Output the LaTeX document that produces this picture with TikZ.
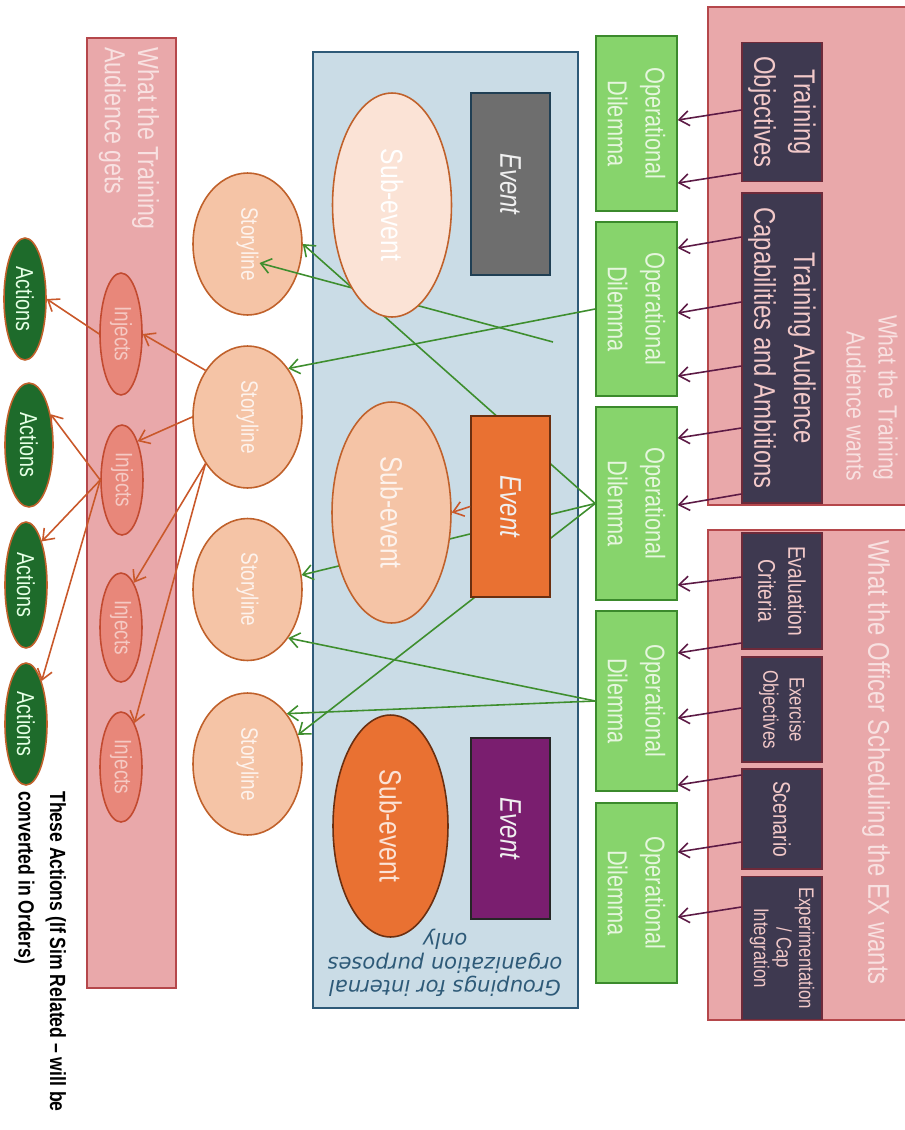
\documentclass[tikz,border=0pt]{standalone}
\usepackage{fontspec}
\setmainfont{Liberation Sans}[FakeStretch=0.8]
\newfontfamily\groupfont{DejaVu Sans}
\usetikzlibrary{arrows.meta,shapes.geometric,calc}

\definecolor{panelpink}{HTML}{E9A8AA}
\definecolor{panelline}{HTML}{B5474B}
\definecolor{wantsink}{HTML}{F8E1E1}
\definecolor{slate}{HTML}{3E3950}
\definecolor{slateline}{HTML}{6E2A3A}
\definecolor{slatetext}{HTML}{F2C9C9}
\definecolor{odgreen}{HTML}{87D46C}
\definecolor{odline}{HTML}{3B8A2C}
\definecolor{odtext}{HTML}{E6F6DE}
\definecolor{groupblue}{HTML}{CADCE6}
\definecolor{groupline}{HTML}{2E5A78}
\definecolor{evgray}{HTML}{6E6E6E}
\definecolor{evorange}{HTML}{E97132}
\definecolor{evpurple}{HTML}{7A1E6F}
\definecolor{peachpale}{HTML}{FBE3D6}
\definecolor{peach}{HTML}{F5C4A6}
\definecolor{rustline}{HTML}{C0612B}
\definecolor{darkrust}{HTML}{6B2F10}
\definecolor{salmon}{HTML}{E8877A}
\definecolor{salmonline}{HTML}{C24A30}
\definecolor{actgreen}{HTML}{1E6B2B}
\definecolor{plum}{HTML}{5C1A45}
\definecolor{linkgreen}{HTML}{3E8E2E}
\definecolor{linkrust}{HTML}{C9582A}

\tikzset{
  panel/.style={draw=panelline, fill=panelpink, line width=0.8pt},
  wanttitle/.style={text=wantsink, inner sep=0pt},
  wantbox/.style={draw=slateline, fill=slate, text=slatetext, minimum height=1.6cm,
    inner sep=0pt, align=center, line width=0.8pt},
  dilemma/.style={draw=odline, fill=odgreen, text=odtext, minimum height=1.62cm,
    inner sep=0pt, align=center, line width=0.9pt, font=\fontsize{15.5}{21.6}\selectfont},
  eventbox/.style={minimum width=3.63cm, minimum height=1.58cm, inner sep=0pt,
    text=white!94!black, line width=0.9pt, font=\fontsize{17}{20}\selectfont\itshape},
  subevent/.style={ellipse, minimum height=2.38cm, inner sep=0pt, line width=0.9pt,
    font=\fontsize{17.5}{20}\selectfont},
  story/.style={ellipse, draw=rustline, fill=peach, text=white!80!peach,
    minimum width=2.84cm, minimum height=2.18cm, inner sep=0pt, line width=0.9pt,
    font=\fontsize{13.5}{16}\selectfont},
  inject/.style={ellipse, draw=salmonline, fill=salmon, text=salmon!45!white,
    minimum height=0.84cm, inner sep=0pt, line width=0.9pt, font=\fontsize{13.5}{16}\selectfont},
  action/.style={ellipse, draw=rustline, fill=actgreen, text=green!10!white,
    minimum height=0.84cm, inner sep=0pt, line width=0.9pt, font=\fontsize{14}{16}\selectfont},
  feeds/.style={draw=plum, line width=0.9pt, -{Straight Barb[length=2mm,width=3mm]}},
  greenlink/.style={draw=linkgreen, line width=0.9pt, -{Straight Barb[length=2mm,width=3mm]}},
  rustlink/.style={draw=linkrust, line width=0.9pt, -{Straight Barb[length=2mm,width=3mm]}}
}

\begin{document}
\begin{tikzpicture}[x=0.02cm, y=0.02cm, rotate=-90, transform shape]
\useasboundingbox (0,0) rectangle (1130,904);
\fill[white] (0,0) rectangle (1130,904);

\draw[panel] (7,708) rectangle (505,910);
\draw[panel] (530,708) rectangle (1020,910);
\draw[panel] (38,87) rectangle (988,176);
\draw[draw=groupline, fill=groupblue, line width=0.9pt] (52,313) rectangle (1008,578);

\node[wanttitle, anchor=east, align=right, font=\fontsize{15}{18.2}\selectfont] (wantsTA) at (481,872) {What the Training\\Audience wants};
\node[wanttitle, anchor=west, font=\fontsize{17}{20}\selectfont] (wantsEX) at (540,876) {What the Officer Scheduling the EX wants};
\node[wanttitle, anchor=west, align=left, font=\fontsize{16.5}{18.8}\selectfont] (getsTA) at (47,129) {What the Training\\Audience gets};

\node[wantbox, minimum width=2.78cm, font=\fontsize{17}{22.7}\selectfont] (TO) at (112,782) {Training\\Objectives};
\node[wantbox, minimum width=6.2cm, font=\fontsize{17}{22.7}\selectfont] (TAC) at (348,782) {Training Audience\\Capabilities and Ambitions};
\node[wantbox, minimum width=2.32cm, font=\fontsize{13.7}{17}\selectfont] (EC) at (591,782) {Evaluation\\Criteria};
\node[wantbox, minimum width=2.1cm, font=\fontsize{12}{15}\selectfont] (EO) at (709.5,782) {Exercise\\Objectives};
\node[wantbox, minimum width=2.0cm, font=\fontsize{13.7}{17}\selectfont] (SC) at (819,782) {Scenario};
\node[wantbox, minimum width=2.86cm, font=\fontsize{12}{12.8}\selectfont] (EXP) at (948,782) {Experimentation\\/ Cap\\Integration};

\node[dilemma, minimum width=3.5cm] (OD1) at (123.5,636.5) {Operational\\Dilemma};
\node[dilemma, minimum width=3.48cm] (OD2) at (309,636.5) {Operational\\Dilemma};
\node[dilemma, minimum width=3.86cm] (OD3) at (503.5,636.5) {Operational\\Dilemma};
\node[dilemma, minimum width=3.6cm] (OD4) at (701,636.5) {Operational\\Dilemma};
\node[dilemma, minimum width=3.6cm] (OD5) at (893,636.5) {Operational\\Dilemma};

\draw[feeds] (TO.south -| 110,0) -- (OD1.north -| 120,0);
\draw[feeds] (TO.south -| 173,0) -- (OD1.north -| 183,0);
\draw[feeds] (TAC.south -| 237,0) -- (OD2.north -| 248,0);
\draw[feeds] (TAC.south -| 302,0) -- (OD2.north -| 313,0);
\draw[feeds] (TAC.south -| 366,0) -- (OD2.north -| 376,0);
\draw[feeds] (TAC.south -| 428,0) -- (OD3.north -| 438,0);
\draw[feeds] (TAC.south -| 494,0) -- (OD3.north -| 505,0);
\draw[feeds] (EC.south -| 577,0) -- (OD3.north -| 585,0);
\draw[feeds] (EC.south -| 643,0) -- (OD4.north -| 653,0);
\draw[feeds] (EO.south -| 708,0) -- (OD4.north -| 718,0);
\draw[feeds] (SC.south -| 775,0) -- (OD4.north -| 785,0);
\draw[feeds] (SC.south -| 842,0) -- (OD5.north -| 852,0);
\draw[feeds] (EXP.south -| 907,0) -- (OD5.north -| 917,0);

\node[story] (SL1) at (244,247.5) {Storyline};
\node[story] (SL2) at (417,247.5) {Storyline};
\node[story] (SL3) at (589.5,247.5) {Storyline};
\node[story] (SL4) at (764,247.5) {Storyline};

\node[inject, minimum width=2.44cm] (IN1) at (334,121) {Injects};
\node[inject, minimum width=2.2cm] (IN2) at (480,122) {Injects};
\node[inject, minimum width=2.18cm] (IN3) at (627.5,121) {Injects};
\node[inject, minimum width=2.2cm] (IN4) at (767,121) {Injects};

\node[action, minimum width=2.44cm] (AC1) at (299,25) {Actions};
\node[action, minimum width=2.48cm, minimum height=0.96cm] (AC2) at (445,29) {Actions};
\node[action, minimum width=2.52cm] (AC3) at (585,26) {Actions};
\node[action, minimum width=2.44cm] (AC4) at (724,26) {Actions};

\coordinate (loose) at (342,553);
\coordinate (SL1mark) at ($(SL1.center)+(19,12)$);
\draw[greenlink] (loose) -- (SL1mark);
\draw[greenlink] (OD2.south) -- (SL2.140);
\draw[greenlink] (OD3.south) -- (SL1.north);
\draw[greenlink] (OD3.south) -- (SL3.105);
\draw[greenlink] (OD3.south) -- (SL4.120);
\draw[greenlink] (OD4.south) -- (SL3.40);
\draw[greenlink] (OD4.south) -- (SL4.142);

\draw[rustlink] (SL2.222) -- (IN1.north);
\draw[rustlink] (SL2.south) -- (IN2.158);
\draw[rustlink] (SL2.318) -- (IN3.164);
\draw[rustlink] (SL2.318) -- (IN4.163);
\draw[rustlink] (IN1.south) -- (AC1.north);
\draw[rustlink] (IN2.south) -- (AC2.145);
\draw[rustlink] (IN2.south) -- (AC3.160);
\draw[rustlink] (IN2.south) -- (AC4.160);

\node[subevent, draw=rustline, fill=peachpale, text=white, minimum width=4.48cm] (SE1) at (205,392) {Sub-event};
\node[subevent, draw=rustline, fill=peach, text=white!80!peach, minimum width=4.42cm] (SE2) at (512.5,391.5) {Sub-event};
\node[subevent, draw=darkrust, fill=evorange, text=peachpale, minimum width=4.44cm, minimum height=2.3cm] (SE3) at (826,390.5) {Sub-event};

\node[eventbox, draw=groupline!70!black, fill=evgray] (EVA) at (184,510.5) {Event};
\node[eventbox, draw=darkrust, fill=evorange] (EVB) at (506.5,510.5) {Event};
\node[eventbox, draw=black!85, fill=evpurple] (EVC) at (828.5,510.5) {Event};
\draw[rustlink] (EVB.south) -- (SE2.north);

\node[rotate=-90, text=groupline, align=center, inner sep=0pt, font=\groupfont\itshape\fontsize{12}{13.5}\selectfont] (grouping) at (963,445) {Groupings for internal\\organization purposes\\only};
\node[anchor=west, align=left, inner sep=0pt, font=\bfseries\fontsize{12.5}{18}\selectfont] (note) at (791,40) {These Actions (If Sim Related -- will be\\converted in Orders)};
\end{tikzpicture}
\end{document}
